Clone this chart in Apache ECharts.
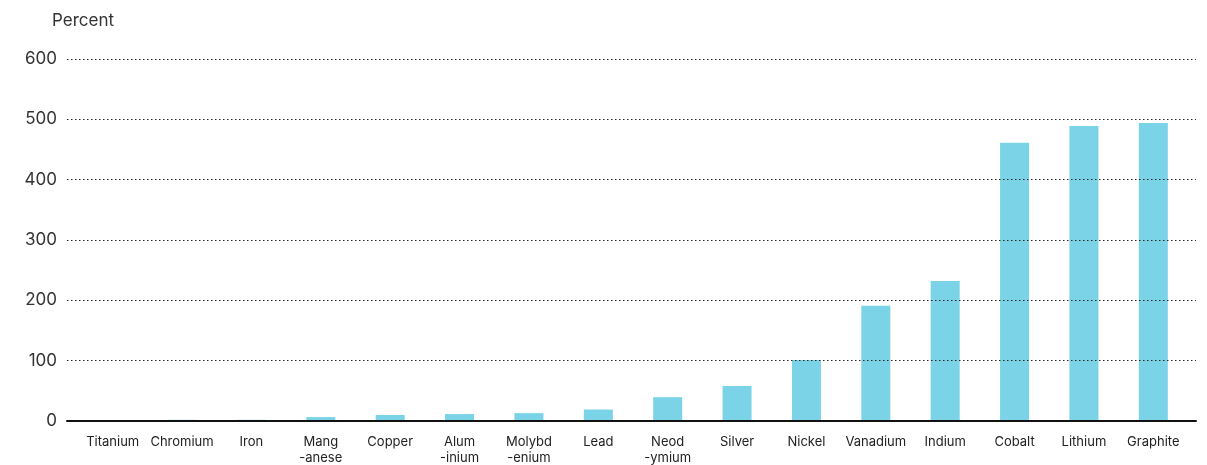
<!DOCTYPE html>
<html>
<head>
<meta charset="utf-8">
<script src="https://cdn.jsdelivr.net/npm/echarts@6/dist/echarts.min.js"></script>
<style>html,body{margin:0;padding:0;background:#fff}#c{width:1207px;height:465px}</style>
</head>
<body>
<div id="c"></div>
<script>
const categories = ["Titanium","Chromium","Iron","Mang\n-anese","Copper","Alum\n-inium","Molybd\n-enium","Lead","Neod\n-ymium","Silver","Nickel","Vanadium","Indium","Cobalt","Lithium","Graphite"];
const values = [0, 2, 2, 6.5, 10, 11.5, 13, 19, 39.5, 58, 101, 191, 232, 461, 489, 494];
const yTicks = [0, 100, 200, 300, 400, 500, 600];

const chart = echarts.init(document.getElementById('c'));
const font = 'Inter, "Noto Sans", sans-serif';
chart.setOption({
  animation: false,
  textStyle: { fontFamily: font },
  graphic: [{ type: 'text', left: 52, top: 12, style: { text: 'Percent', fontSize: 17, fill: '#333', fontFamily: font } }],
  grid: [
    { left: 67, right: 11, top: 59, bottom: 44, outerBoundsMode: 'none', containLabel: false },
    { left: 78, right: 19, top: 59, bottom: 44, outerBoundsMode: 'none', containLabel: false }
  ],
  xAxis: [
    { type: 'value', gridIndex: 0, min: 0, max: 1, z: 5,
      axisLine: { show: true, onZero: false, lineStyle: { color: '#111', width: 2 } },
      axisTick: { show: false }, axisLabel: { show: false }, splitLine: { show: false } },
    { type: 'category', gridIndex: 1, data: categories,
      axisLine: { show: false }, axisTick: { show: false },
      axisLabel: { interval: 0, fontSize: 13, color: '#222', lineHeight: 16, margin: 13, fontFamily: font } }
  ],
  yAxis: [
    { type: 'value', gridIndex: 0, min: yTicks[0], max: yTicks[yTicks.length - 1], interval: 100, z: 5,
      axisLine: { show: false }, axisTick: { show: false },
      axisLabel: { fontSize: 17, color: '#333', margin: 10, fontFamily: font },
      splitLine: { show: true, lineStyle: { color: '#222', type: [1.5, 2.5], width: 1 } } },
    { type: 'value', gridIndex: 1, min: 0, max: 600, interval: 100, show: false, splitLine: { show: false } }
  ],
  series: [{
    type: 'bar', xAxisIndex: 1, yAxisIndex: 1, data: values, barWidth: 29,
    itemStyle: { color: '#7AD3E6' }
  }]
});
</script>
</body>
</html>
